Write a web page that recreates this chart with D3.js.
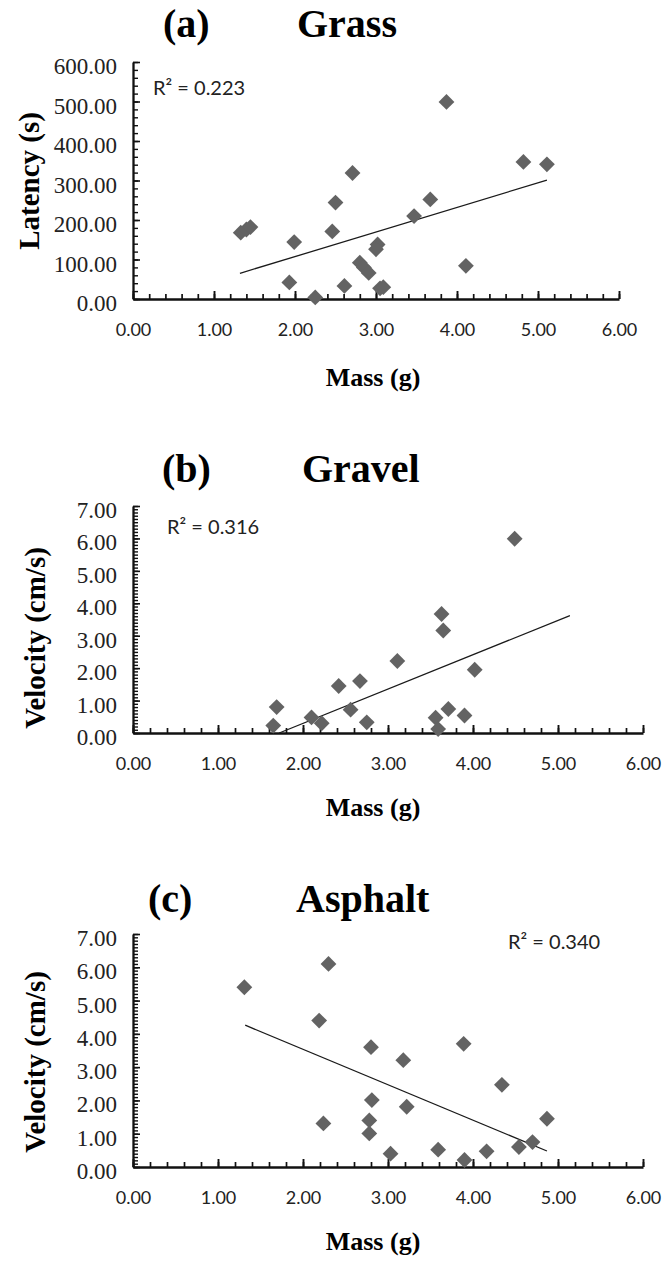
<!DOCTYPE html>
<html>
<head>
<meta charset="utf-8">
<script src="https://cdn.jsdelivr.net/npm/d3@7"></script>
<style>
  body { margin: 0; background: #fff; }
  .ytick text { font-family: "Liberation Serif", serif; font-size: 23px; fill: #222; }
  .xtick text { font-family: Lato, "Liberation Sans", sans-serif; font-size: 18px; fill: #222; }
  .titulo { font-family: "Liberation Serif", serif; font-weight: bold; font-size: 40px; }
  .eje { font-family: "Liberation Serif", serif; font-weight: bold; font-size: 26px; }
  .ejey { font-family: "Liberation Serif", serif; font-weight: bold; font-size: 29px; }
  .r2 { font-family: Lato, "Liberation Sans", sans-serif; font-size: 20px; fill: #222; }
</style>
</head>
<body>
<script>
// datos
var grassMass    = [1.33, 1.40, 1.45, 1.99, 1.93, 2.25, 2.46, 2.50, 2.71, 2.61, 2.80, 2.85, 2.91, 3.02, 3.00, 3.05, 3.09, 3.47, 3.67, 3.87, 4.11, 4.82, 5.11];
var grassLatency = [168, 176, 182, 144, 42, 4, 171, 244, 319, 33, 92, 80, 66, 138, 126, 27, 30, 210, 252, 499, 84, 347, 341];

var gravelMass     = [1.65, 1.69, 2.10, 2.22, 2.42, 2.56, 2.67, 2.75, 3.11, 3.56, 3.59, 3.63, 3.65, 3.71, 3.90, 4.02, 4.49];
var gravelVelocity = [0.23, 0.80, 0.48, 0.30, 1.45, 0.72, 1.60, 0.33, 2.22, 0.47, 0.12, 3.67, 3.16, 0.74, 0.54, 1.95, 5.99];

var asphaltMass     = [1.31, 2.30, 2.19, 2.24, 2.80, 2.81, 2.78, 2.78, 3.03, 3.18, 3.22, 3.59, 3.89, 3.90, 4.16, 4.34, 4.54, 4.70, 4.87];
var asphaltVelocity = [5.40, 6.10, 4.40, 1.31, 3.60, 2.01, 1.40, 1.01, 0.40, 3.21, 1.81, 0.52, 3.70, 0.21, 0.47, 2.47, 0.60, 0.75, 1.45];

// lineas de tendencia [x1, y1, x2, y2]
var grassTrend   = [1.32, 65, 5.11, 301];
var gravelTrend  = [1.72, 0, 5.14, 3.62];
var asphaltTrend = [1.32, 4.26, 4.87, 0.48];

var xTicks = [0, 1, 2, 3, 4, 5, 6];
var latencyTicks = [0, 100, 200, 300, 400, 500, 600];
var velocityTicks = [0, 1, 2, 3, 4, 5, 6, 7];

var svg = d3.select("body").append("svg")
    .attr("width", 664)
    .attr("height", 1261);

var paneles = [
  { letra: "(a)", nombre: "Grass", ylab: "Latency (s)", r2: "R² = 0.223",
    xs: grassMass, ys: grassLatency, trend: grassTrend,
    ymax: 600, yticks: latencyTicks, ypaso: 20,
    left: 133, right: 619, top: 62, bottom: 299,
    letraX: 163, nombreX: 297, tituloY: 37, r2X: 153, r2Y: 95, ylabX: 30, ylabY: 181, xlabY: 386 },
  { letra: "(b)", nombre: "Gravel", ylab: "Velocity (cm/s)", r2: "R² = 0.316",
    xs: gravelMass, ys: gravelVelocity, trend: gravelTrend,
    ymax: 7, yticks: velocityTicks, ypaso: 0.1,
    left: 133, right: 643, top: 506, bottom: 733,
    letraX: 162, nombreX: 302, tituloY: 482, r2X: 167, r2Y: 534, ylabX: 36, ylabY: 638, xlabY: 816 },
  { letra: "(c)", nombre: "Asphalt", ylab: "Velocity (cm/s)", r2: "R² = 0.340",
    xs: asphaltMass, ys: asphaltVelocity, trend: asphaltTrend,
    ymax: 7, yticks: velocityTicks, ypaso: 0.1,
    left: 133, right: 643, top: 934, bottom: 1167,
    letraX: 148, nombreX: 296, tituloY: 912, r2X: 508, r2Y: 949, ylabX: 36, ylabY: 1062, xlabY: 1250 }
];

paneles.forEach(function(p) {
  var x = d3.scaleLinear().domain([0, 6]).range([p.left, p.right]);
  var y = d3.scaleLinear().domain([0, p.ymax]).range([p.bottom, p.top]);
  var g = svg.append("g");

  // marcas menores
  var xMenor = d3.range(0, 6.0001, 0.2);
  g.append("g")
    .attr("transform", "translate(0," + p.bottom + ")")
    .call(d3.axisBottom(x).tickValues(xMenor).tickSize(-5).tickSizeOuter(0).tickFormat(""))
    .call(function(s) { s.select(".domain").remove(); s.selectAll("line").attr("stroke", "#111").attr("stroke-width", 1.7); });

  var yMenor = d3.range(0, p.ymax + p.ypaso / 2, p.ypaso);
  g.append("g")
    .attr("transform", "translate(" + p.left + ",0)")
    .call(d3.axisLeft(y).tickValues(yMenor).tickSize(-5).tickSizeOuter(0).tickFormat(""))
    .call(function(s) { s.select(".domain").remove(); s.selectAll("line").attr("stroke", "#111").attr("stroke-width", 1.4); });

  // ejes principales
  g.append("g")
    .attr("class", "xtick")
    .attr("transform", "translate(0," + p.bottom + ")")
    .call(d3.axisBottom(x).tickValues(xTicks).tickSize(-8).tickSizeOuter(0).tickPadding(24).tickFormat(d3.format(".2f")))
    .call(function(s) {
      s.select(".domain").attr("stroke", "#111").attr("stroke-width", 2.3);
      s.selectAll("line").attr("stroke", "#111").attr("stroke-width", 1.9);
    });

  g.append("g")
    .attr("class", "ytick")
    .attr("transform", "translate(" + p.left + ",0)")
    .call(d3.axisLeft(y).tickValues(p.yticks).tickSize(-7).tickSizeOuter(0).tickPadding(16).tickFormat(d3.format(".2f")))
    .call(function(s) {
      s.select(".domain").attr("stroke", "#111").attr("stroke-width", 2.3);
      s.selectAll("line").attr("stroke", "#111").attr("stroke-width", 1.6);
      s.selectAll("text").attr("dy", "0.5em");
    });

  // linea de tendencia
  g.append("line")
    .attr("x1", x(p.trend[0])).attr("y1", y(p.trend[1]))
    .attr("x2", x(p.trend[2])).attr("y2", y(p.trend[3]))
    .attr("stroke", "#1a1a1a")
    .attr("stroke-width", 1.3);

  // rombos
  var puntos = p.xs.map(function(d, i) { return [d, p.ys[i]]; });
  g.selectAll("path.punto")
    .data(puntos)
    .enter()
    .append("path")
    .attr("class", "punto")
    .attr("d", d3.symbol().type(d3.symbolSquare).size(125))
    .attr("transform", function(d) { return "translate(" + x(d[0]) + "," + y(d[1]) + ") rotate(45)"; })
    .attr("fill", "#636363");

  // textos
  g.append("text").attr("class", "titulo").attr("x", p.letraX).attr("y", p.tituloY).text(p.letra);
  g.append("text").attr("class", "titulo").attr("x", p.nombreX).attr("y", p.tituloY).text(p.nombre);
  g.append("text").attr("class", "r2").attr("x", p.r2X).attr("y", p.r2Y).text(p.r2);
  g.append("text").attr("class", "ejey")
    .attr("text-anchor", "middle")
    .attr("transform", "translate(" + (p.ylabX + 9) + "," + p.ylabY + ") rotate(-90)")
    .text(p.ylab);
  g.append("text").attr("class", "eje")
    .attr("text-anchor", "middle")
    .attr("x", 373).attr("y", p.xlabY)
    .text("Mass (g)");
});
</script>
</body>
</html>
